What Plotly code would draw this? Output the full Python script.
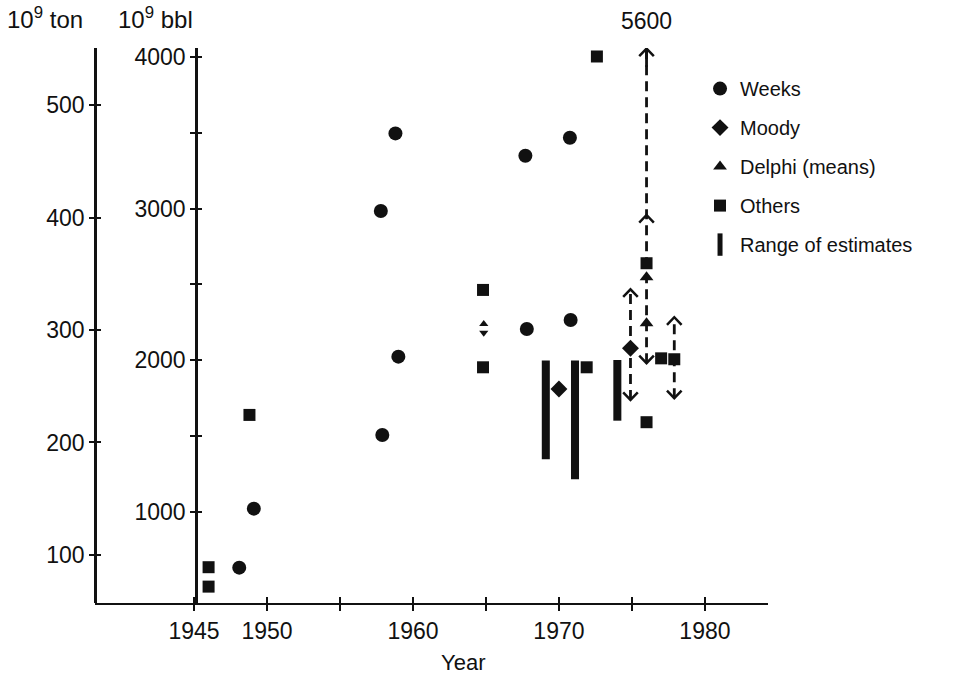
import plotly.graph_objects as go

# ---------------- data (10^9 bbl) ----------------
weeks_year = [1948.1, 1949.1, 1957.8, 1957.9, 1958.8, 1959.0, 1967.7, 1967.8, 1970.75, 1970.8]
weeks_bbl = [633, 1022, 2984, 1508, 3496, 2024, 3349, 2206, 3467, 2266]

moody_year = [1970.0, 1974.9]
moody_bbl = [1811, 2080]

delphi_year = [1976.0, 1976.0]
delphi_bbl = [2548, 2244]

others_year = [1946.0, 1946.0, 1948.8, 1964.8, 1964.8, 1971.9, 1972.6, 1976.0, 1976.0, 1977.0, 1977.9]
others_bbl = [636, 508, 1640, 2464, 1954, 1954, 4003, 2640, 1592, 2013, 2007]

# small double arrow at 1965
dbl_year = [1964.85]
dbl_up = [2240]
dbl_down = [2182]

# range of estimates (solid bars)
range_year = [1969.1, 1971.1, 1974.0]
range_low = [1348, 1216, 1602]
range_high = [1998, 1998, 2002]

# dashed ranges
dash_year = [1974.9, 1976.0, 1977.9]
dash_low = [1739, 1981, 1750]
dash_high = [2468, 5600, 2284]
top_shown = 4055          # where the off-scale 5600 arrow is drawn
top_label = "5600"

# chevrons marking range ends
chev_up_year = [1974.9, 1976.0, 1976.0, 1977.9]
chev_up_bbl = [2468, 2958, top_shown, 2284]
chev_dn_year = [1974.9, 1976.0, 1977.9]
chev_dn_bbl = [1739, 1981, 1750]

# axes
x_range = [1938.22, 1984.32]
bbl_range = [400, 4059]
ton_range = [57.3, 550.7]
x_tickvals = [1945, 1950, 1955, 1960, 1965, 1970, 1975, 1980]
x_ticktext = ["1945", "1950", "", "1960", "", "1970", "", "1980"]
bbl_tickvals = [1000, 1500, 2000, 2500, 3000, 3500, 4000]
bbl_ticktext = ["1000", "", "2000", "", "3000", "", "4000"]
ton_tickvals = [100, 200, 300, 400, 500]
ton_ticktext = ["100", "200", "300", "400", "500"]

FONT = "Liberation Sans, Arial, sans-serif"
BLACK = "#111111"
CHEV_HALF_W = 0.5   # years
CHEV_H = 50         # bbl

fig = go.Figure()

# dummy traces so that the overlay axes are drawn
for xa, ya in [("x2", "y"), ("x", "y2"), ("x", "y3"), ("x", "y4")]:
    fig.add_trace(go.Scatter(x=[None], y=[None], xaxis=xa, yaxis=ya, mode="markers",
                             showlegend=False, hoverinfo="skip"))

# dashed range lines
dx, dy = [], []
for yr, lo, hi in zip(dash_year, dash_low, dash_high):
    dx += [yr, yr, None]
    dy += [lo, min(hi, top_shown), None]
fig.add_trace(go.Scatter(x=dx, y=dy, mode="lines", showlegend=False,
                         line=dict(color=BLACK, width=2.8, dash="10px,6px"),
                         hoverinfo="skip"))

# solid stem under the off-scale arrow head
fig.add_trace(go.Scatter(x=[dash_year[1], dash_year[1]], y=[top_shown - 120, top_shown],
                         mode="lines", showlegend=False, hoverinfo="skip",
                         line=dict(color=BLACK, width=2.8)))

# range bars
fig.add_trace(go.Bar(x=range_year, base=range_low,
                     y=[h - l for h, l in zip(range_high, range_low)],
                     width=0.55, marker=dict(color=BLACK, line=dict(width=0)),
                     showlegend=False))

# chevrons (open arrow heads)
cx, cy = [], []
for yr, v in zip(chev_up_year, chev_up_bbl):
    cx += [yr - CHEV_HALF_W, yr, yr + CHEV_HALF_W, None]
    cy += [v - CHEV_H, v, v - CHEV_H, None]
for yr, v in zip(chev_dn_year, chev_dn_bbl):
    cx += [yr - CHEV_HALF_W, yr, yr + CHEV_HALF_W, None]
    cy += [v + CHEV_H, v, v + CHEV_H, None]
fig.add_trace(go.Scatter(x=cx, y=cy, mode="lines", showlegend=False, hoverinfo="skip",
                         line=dict(color=BLACK, width=2.5)))

# double arrow
fig.add_trace(go.Scatter(x=dbl_year, y=dbl_up, mode="markers", showlegend=False,
                         marker=dict(symbol="triangle-up", size=8, color=BLACK)))
fig.add_trace(go.Scatter(x=dbl_year, y=dbl_down, mode="markers", showlegend=False,
                         marker=dict(symbol="triangle-down", size=8, color=BLACK)))

# series
fig.add_trace(go.Scatter(x=weeks_year, y=weeks_bbl, mode="markers", name="Weeks",
                         legendgroup="a", marker=dict(symbol="circle", size=14, color=BLACK)))
fig.add_trace(go.Scatter(x=moody_year, y=moody_bbl, mode="markers", name="Moody",
                         legendgroup="b", marker=dict(symbol="diamond", size=13, color=BLACK)))
fig.add_trace(go.Scatter(x=delphi_year, y=delphi_bbl, mode="markers", name="Delphi (means)",
                         legendgroup="c", marker=dict(symbol="triangle-up", size=12, color=BLACK)))
fig.add_trace(go.Scatter(x=others_year, y=others_bbl, mode="markers", name="Others",
                         legendgroup="d", marker=dict(symbol="square", size=12, color=BLACK)))
fig.add_trace(go.Scatter(x=[None], y=[None], mode="markers", name="Range of estimates",
                         legendgroup="e",
                         marker=dict(symbol="line-ns", size=16, color=BLACK,
                                     line=dict(width=9, color=BLACK))))

tickfont = dict(family=FONT, size=23, color=BLACK)
fig.update_layout(
    width=965, height=676,
    margin=dict(l=95, r=197, t=48, b=73),
    paper_bgcolor="white", plot_bgcolor="white",
    font=dict(family=FONT, size=20, color=BLACK),
    barmode="overlay",
    showlegend=True,
    legend=dict(x=0.899, y=0.962, xanchor="left", yanchor="top",
                font=dict(family=FONT, size=20, color=BLACK),
                tracegroupgap=10, traceorder="grouped",
                bgcolor="rgba(0,0,0,0)", itemwidth=30),
    xaxis=dict(range=x_range, showgrid=False, zeroline=False, showline=True,
               linecolor=BLACK, linewidth=2, tickvals=x_tickvals, ticktext=x_ticktext,
               ticks="outside", ticklen=6, tickwidth=2, tickcolor=BLACK, tickfont=tickfont),
    xaxis2=dict(range=x_range, overlaying="x", anchor="y", side="bottom",
                showgrid=False, zeroline=False, showline=False,
                tickvals=x_tickvals, showticklabels=False,
                ticks="inside", ticklen=6, tickwidth=2, tickcolor=BLACK),
    yaxis=dict(range=bbl_range, anchor="free", position=0.1501, side="left",
               showgrid=False, zeroline=False, showline=True, linecolor=BLACK, linewidth=2.5,
               tickvals=bbl_tickvals, ticktext=bbl_ticktext,
               ticks="outside", ticklen=5, tickwidth=2, tickcolor=BLACK, tickfont=tickfont),
    yaxis2=dict(range=ton_range, overlaying="y", anchor="free", position=0, side="left",
                showgrid=False, zeroline=False, showline=True, linecolor=BLACK, linewidth=2.5,
                tickvals=ton_tickvals, ticktext=ton_ticktext,
                ticks="outside", ticklen=5, tickwidth=2, tickcolor=BLACK, tickfont=tickfont),
    yaxis3=dict(range=bbl_range, overlaying="y", anchor="free", position=0.1501, side="left",
                showgrid=False, zeroline=False, showline=False,
                tickvals=bbl_tickvals, showticklabels=False,
                ticks="inside", ticklen=5, tickwidth=2, tickcolor=BLACK),
    yaxis4=dict(range=ton_range, overlaying="y", anchor="free", position=0, side="left",
                showgrid=False, zeroline=False, showline=False,
                tickvals=ton_tickvals, showticklabels=False,
                ticks="inside", ticklen=5, tickwidth=2, tickcolor=BLACK),
)

# axis unit labels, year title, off-scale label
fig.add_annotation(text="10<sup>9</sup> ton", xref="paper", yref="paper", x=-0.133, y=1.085,
                   xanchor="left", yanchor="top", showarrow=False,
                   font=dict(family=FONT, size=24, color=BLACK))
fig.add_annotation(text="10<sup>9</sup> bbl", xref="paper", yref="paper", x=0.031, y=1.085,
                   xanchor="left", yanchor="top", showarrow=False,
                   font=dict(family=FONT, size=24, color=BLACK))
fig.add_annotation(text="Year", xref="x", yref="paper", x=1963.4, y=-0.108,
                   xanchor="center", yanchor="middle", showarrow=False,
                   font=dict(family=FONT, size=22, color=BLACK))
fig.add_annotation(text=top_label, xref="x", yref="y", x=dash_year[1], y=top_shown,
                   yshift=28, xanchor="center", yanchor="middle", showarrow=False,
                   font=dict(family=FONT, size=23, color=BLACK))

fig.write_html("out.html")
